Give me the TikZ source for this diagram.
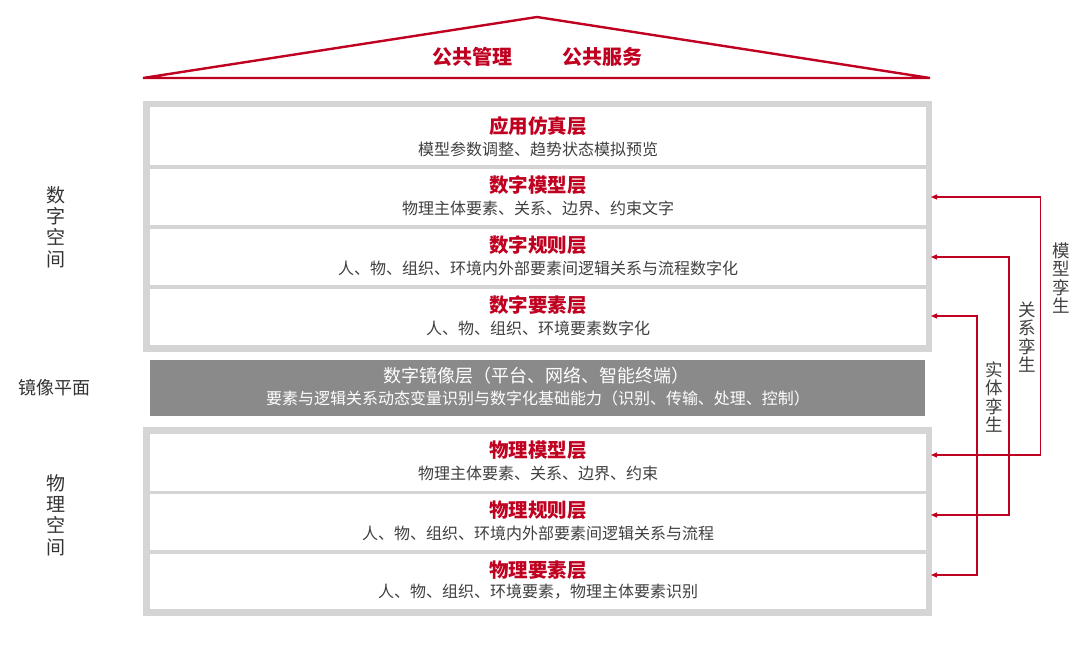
\documentclass[tikz,border=0pt]{standalone}
\usepackage{fontspec}
\setmainfont{Noto Sans CJK SC}
\usetikzlibrary{arrows.meta,calc}
\definecolor{cred}{RGB}{192,0,32}
\definecolor{cborder}{RGB}{213,213,213}
\definecolor{cmirror}{RGB}{138,138,138}
\definecolor{ctext}{RGB}{64,64,64}
\definecolor{clabel}{RGB}{51,51,51}
\begin{document}
\begin{tikzpicture}[x=1pt,y=-1pt,
  rowbox/.style={fill=white,draw=none,minimum width=776pt,inner sep=0pt,anchor=north west},
  ttl/.style={text=cred,font=\fontsize{19.5}{20}\selectfont\bfseries,inner sep=0pt},
  sub/.style={text=ctext,font=\fontsize{16}{18}\selectfont,inner sep=0pt},
  sidelabel/.style={text=clabel,font=\fontsize{19}{21.3}\selectfont,align=center,inner sep=0pt},
  twinlabel/.style={text=ctext,font=\fontsize{17.5}{18.3}\selectfont,align=center,inner sep=0pt},
  twin/.style={draw=cred,line width=1.1pt,{Triangle[length=6pt,width=5pt]}-{Triangle[length=6pt,width=5pt]}},
  roof/.style={draw=cred,line width=2.4pt,line join=miter}
]
\useasboundingbox (0,0) rectangle (1080,645);
% roof
\coordinate (apex) at (537,17);
\coordinate (rl) at (143,78);
\coordinate (rr) at (930,78);
\draw[roof] (rl) -- (apex) -- (rr) -- cycle;
\node[text=cred,font=\fontsize{20}{20}\selectfont\bfseries,inner sep=0pt] (pm) at (472,57) {公共管理};
\node[text=cred,font=\fontsize{20}{20}\selectfont\bfseries,inner sep=0pt] (ps) at (602,57) {公共服务};
% digital space frame
\node[fill=cborder,draw=none,inner sep=0pt,minimum width=789pt,minimum height=251pt,anchor=north west] (dframe) at (143,101) {};
\node[rowbox,minimum height=58pt] (r1) at (150,107) {};
\node[rowbox,minimum height=55.5pt] (r2) at (150,169) {};
\node[rowbox,minimum height=55.5pt] (r3) at (150,229) {};
\node[rowbox,minimum height=55.5pt] (r4) at (150,289) {};
% mirror
\node[fill=cmirror,draw=none,inner sep=0pt,minimum width=775pt,minimum height=56pt,anchor=north west] (mirror) at (150,360) {};
% physical frame
\node[fill=cborder,draw=none,inner sep=0pt,minimum width=789pt,minimum height=189pt,anchor=north west] (pframe) at (143,427) {};
\node[rowbox,minimum height=56.5pt] (r5) at (150,434) {};
\node[rowbox,minimum height=56pt] (r6) at (150,494) {};
\node[rowbox,minimum height=55pt] (r7) at (150,554) {};
% texts
\node[ttl] (t1) at (538,126) {应用仿真层};
\node[sub] (s1) at (538,149) {模型参数调整、趋势状态模拟预览};
\node[ttl] (t2) at (538,185) {数字模型层};
\node[sub] (s2) at (538,208) {物理主体要素、关系、边界、约束文字};
\node[ttl] (t3) at (538,245) {数字规则层};
\node[sub] (s3) at (538,268) {人、物、组织、环境内外部要素间逻辑关系与流程数字化};
\node[ttl] (t4) at (538,305) {数字要素层};
\node[sub] (s4) at (538,328) {人、物、组织、环境要素数字化};
\node[text=white,font=\fontsize{18}{18}\selectfont,inner sep=0pt] (tm) at (536,376) {数字镜像层（平台、网络、智能终端）};
\node[text=white,font=\fontsize{16}{18}\selectfont,inner sep=0pt] (sm) at (538,398) {要素与逻辑关系动态变量识别与数字化基础能力（识别、传输、处理、控制）};
\node[ttl] (t5) at (538,450) {物理模型层};
\node[sub] (s5) at (538,473) {物理主体要素、关系、边界、约束};
\node[ttl] (t6) at (538,510) {物理规则层};
\node[sub] (s6) at (538,533) {人、物、组织、环境内外部要素间逻辑关系与流程};
\node[ttl] (t7) at (538,570) {物理要素层};
\node[sub] (s7) at (538,592) {人、物、组织、环境要素，物理主体要素识别};
% side labels
\node[sidelabel] (ds) at (56,227) {数\\字\\空\\间};
\node[text=clabel,font=\fontsize{18}{20}\selectfont,inner sep=0pt] (mp) at (55,388) {镜像平面};
\node[sidelabel] (phs) at (56,515) {物\\理\\空\\间};
% twin connectors
\coordinate (a2) at (931,197);
\coordinate (a3) at (931,257);
\coordinate (a4) at (931,316);
\coordinate (a5) at (931,455);
\coordinate (a6) at (931,515);
\coordinate (a7) at (931,575);
\coordinate (v1) at (1040.5,197);
\coordinate (v2) at (1009,257);
\coordinate (v3) at (977,316);
\draw[twin] (a2) -- (v1) |- (a5);
\draw[twin] (a3) -- (v2) |- (a6);
\draw[twin] (a4) -- (v3) |- (a7);
\node[twinlabel] (mt) at (1061,278) {模\\型\\孪\\生};
\node[twinlabel] (rt) at (1027,337) {关\\系\\孪\\生};
\node[twinlabel] (et) at (994,397) {实\\体\\孪\\生};
\end{tikzpicture}
\end{document}
